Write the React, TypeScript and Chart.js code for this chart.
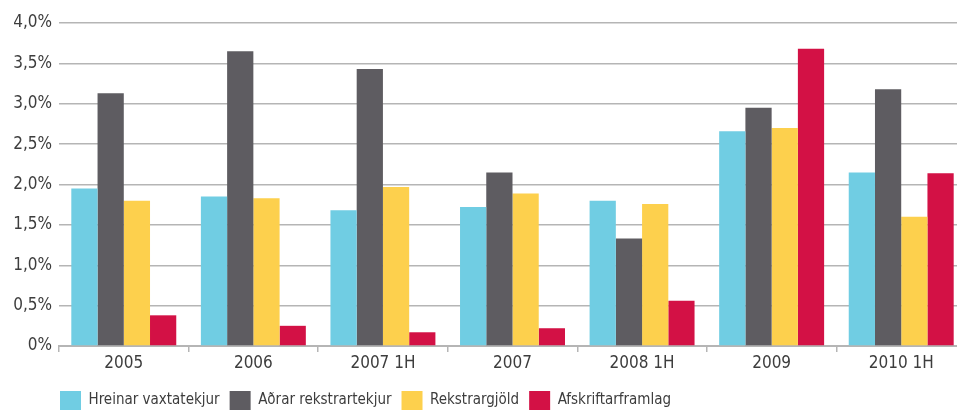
import React, { useEffect, useRef } from "react";
import { Chart, registerables } from "chart.js";

Chart.register(...registerables);

const categories = ["2005", "2006", "2007 1H", "2007", "2008 1H", "2009", "2010 1H"];
const hreinarVaxtatekjur = [1.95, 1.85, 1.68, 1.72, 1.8, 2.66, 2.15];
const adrarRekstrartekjur = [3.13, 3.65, 3.43, 2.15, 1.33, 2.95, 3.18];
const rekstrargjold = [1.8, 1.83, 1.97, 1.89, 1.76, 2.7, 1.6];
const afskriftarframlag = [0.38, 0.25, 0.17, 0.22, 0.56, 3.68, 2.14];
const seriesNames = ["Hreinar vaxtatekjur", "Aðrar rekstrartekjur", "Rekstrargjöld", "Afskriftarframlag"];
const seriesColors = ["#70CDE3", "#5E5C61", "#FDD04D", "#D31145"];
const yTickLabels = ["0%", "0,5%", "1,0%", "1,5%", "2,0%", "2,5%", "3,0%", "3,5%", "4,0%"];

const FONT = "'Liberation Sans Narrow', 'DejaVu Sans Condensed', 'Open Sans', sans-serif";
const TEXT = "#3d3d3d";

export default function App() {
  const ref = useRef<HTMLCanvasElement | null>(null);
  useEffect(() => {
    if (!ref.current) return;
    const legendShift = {
      id: "legendShift",
      afterLayout(chart: any) {
        const lg = chart.legend;
        if (lg) {
          lg.left = 50;
          lg.top = 381;
          lg.bottom = lg.top + lg.height;
        }
      },
    };
    const chart = new Chart(ref.current, {
      type: "bar",
      data: {
        labels: categories,
        datasets: [hreinarVaxtatekjur, adrarRekstrartekjur, rekstrargjold, afskriftarframlag].map((d, i) => ({
          label: seriesNames[i],
          data: d,
          backgroundColor: seriesColors[i],
          borderWidth: 0,
          categoryPercentage: 0.81,
          barPercentage: 1,
        })),
      },
      options: {
        animation: false,
        responsive: false,
        maintainAspectRatio: false,
        layout: { padding: { top: 23, left: 0, right: 0, bottom: 0 } },
        font: { family: FONT },
        plugins: {
          tooltip: { enabled: false },
          legend: {
            position: "bottom",
            align: "start",
            labels: {
              boxWidth: 21,
              boxHeight: 19,
              padding: 10,
              color: TEXT,
              font: { family: FONT, size: 15 },
            },
          },
        },
        scales: {
          x: {
            afterFit: (s: any) => {
              s.height = 25;
            },
            grid: {
              display: true,
              drawOnChartArea: false,
              drawTicks: true,
              tickLength: 6,
              color: "#b5b5b5",
              lineWidth: 1.5,
              offset: true,
            },
            border: { display: true, color: "#b5b5b5", width: 2 },
            ticks: { color: TEXT, font: { family: FONT, size: 17 }, padding: 1, maxRotation: 0 },
          },
          y: {
            min: 0,
            max: 4,
            afterFit: (s: any) => {
              s.width = 59;
            },
            grid: { color: "#b5b5b5", lineWidth: 1.5, drawTicks: false },
            border: { display: false },
            ticks: {
              stepSize: 0.5,
              padding: 7,
              color: TEXT,
              font: { family: FONT, size: 17 },
              callback: (v: any) => yTickLabels[Math.round(Number(v) / 0.5)],
            },
          },
        },
      },
      plugins: [legendShift],
    } as any);
    return () => chart.destroy();
  }, []);
  return (
    <div style={{ position: "fixed", left: 0, top: 0, width: 957, height: 410, overflow: "hidden", background: "#fff" }}>
      <canvas ref={ref} width={966} height={410} style={{ display: "block", width: 966, height: 410 }} />
    </div>
  );
}
